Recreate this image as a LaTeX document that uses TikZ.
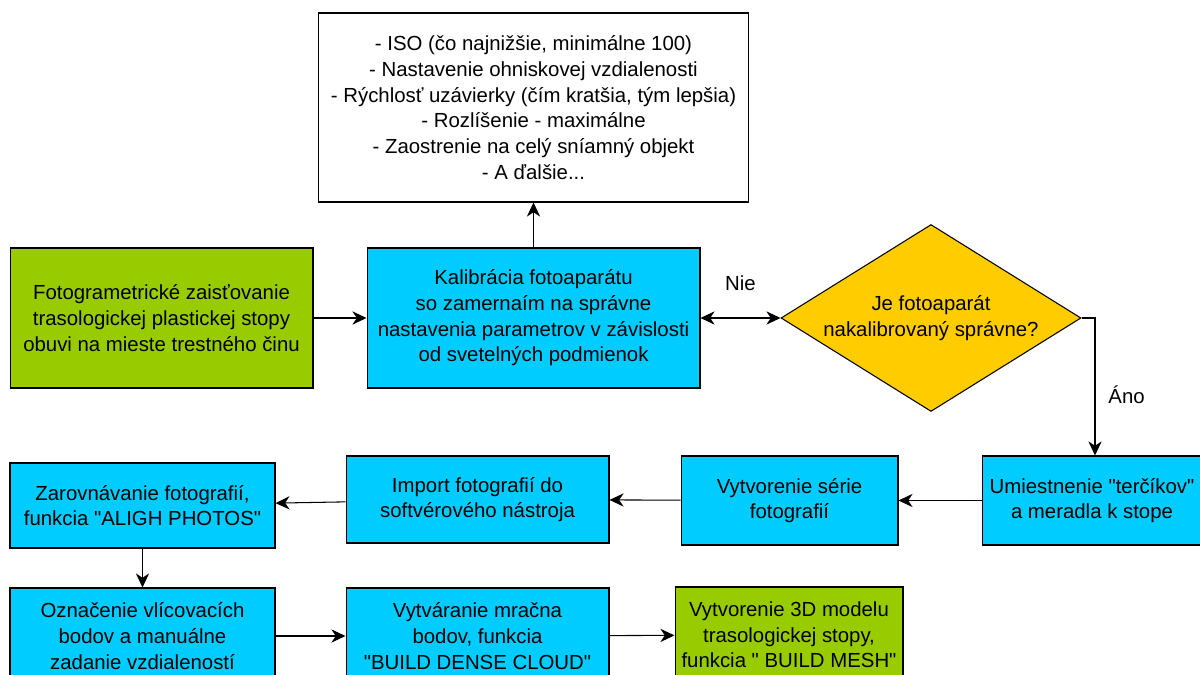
\documentclass[tikz,border=0pt]{standalone}
\usepackage{fontspec}
\setmainfont{Liberation Sans}[Ligatures=TeXOff]
\usetikzlibrary{shapes.geometric,arrows.meta}
\definecolor{myblue}{HTML}{00CCFF}
\definecolor{mygreen}{HTML}{99CC00}
\definecolor{myyellow}{HTML}{FFCC00}
\tikzset{
  stepbox/.style={draw, rectangle, line width=0.6pt, align=center, inner sep=1pt,
    font=\fontsize{11.6pt}{14.6pt}\selectfont},
  bluebox/.style={stepbox, fill=myblue},
  greenbox/.style={stepbox, fill=mygreen},
  tip/.tip={Stealth[length=8pt,width=7.5pt,inset=2.5pt]},
  flow/.style={-tip, line width=0.6pt},
  lbl/.style={font=\fontsize{11.6pt}{14.6pt}\selectfont}
}

\begin{document}
\begin{tikzpicture}[x=0.02cm, y=-0.02cm]%
\clip (0,0) rectangle (1200,675);%
\fill[white] (0,0) rectangle (1200,675);%
% nodes
\node[stepbox, fill=white, minimum width=8.62cm, minimum height=3.78cm] (nastavenia) at (533.5, 107.5) {- ISO (čo najnižšie, minimálne 100)\\- Nastavenie ohniskovej vzdialenosti\\- Rýchlosť uzávierky (čím kratšia, tým lepšia)\\- Rozlíšenie - maximálne\\- Zaostrenie na celý sníamný objekt\\- A ďalšie...};%
\node[greenbox, minimum width=6.06cm, minimum height=2.8cm] (zaistovanie) at (161.5, 318) {Fotogrametrické zaisťovanie\\trasologickej plastickej stopy\\obuvi na mieste trestného činu};%
\node[bluebox, minimum width=6.66cm, minimum height=2.8cm] (kalibracia) at (533.5, 318) {Kalibrácia fotoaparátu\\so zamernaím na správne\\nastavenia parametrov v závislosti\\od svetelných podmienok};%
\node[draw, diamond, aspect=1.6, fill=myyellow, line width=0.6pt, inner sep=0pt, align=center, minimum width=6cm, minimum height=3.74cm, lbl] (otazka) at (931, 318) {Je fotoaparát\\nakalibrovaný správne?};%
\node[bluebox, minimum width=4.4cm, minimum height=1.78cm] (terciky) at (1092, 500.5) {Umiestnenie "terčíkov"\\ a meradla k stope};%
\node[bluebox, minimum width=4.34cm, minimum height=1.78cm] (seria) at (789.5, 500.5) {Vytvorenie série\\fotografií};%
\node[bluebox, minimum width=5.26cm, minimum height=1.74cm] (import) at (477.5, 499.5) {Import fotografií do\\softvérového nástroja};%
\node[bluebox, minimum width=5.3cm, minimum height=1.7cm] (zarovnanie) at (142.5, 505.5) {Zarovnávanie fotografií,\\funkcia "ALIGH PHOTOS"};%
\node[bluebox, minimum width=5.3cm, minimum height=1.92cm] (oznacenie) at (142.5, 636) {Označenie vlícovacích\\bodov a manuálne\\zadanie vzdialeností};%
\node[bluebox, minimum width=5.26cm, minimum height=1.92cm] (mracno) at (477.5, 636) {Vytváranie mračna\\bodov, funkcia\\"BUILD DENSE CLOUD"};%
\node[greenbox, minimum width=4.56cm, minimum height=1.92cm] (model) at (789, 635) {Vytvorenie 3D modelu\\trasologickej stopy,\\funkcia " BUILD MESH"};%
% arrows
\draw[flow] (zaistovanie) -- (kalibracia);%
\draw[flow] (kalibracia) -- (nastavenia);%
\draw[flow, tip-tip] (kalibracia) -- node[lbl, above=12pt] {Nie} (otazka);%
\draw[flow] (otazka.east) -| node[lbl, pos=0.78, right=4pt] {Áno} (terciky.north -| 1095,0);%
\draw[flow] (terciky) -- (seria);%
\draw[flow] (seria) -- (import);%
\draw[flow] (import) -- (zarovnanie);%
\draw[flow] (zarovnanie) -- (oznacenie);%
\draw[flow] (oznacenie) -- (mracno);%
\draw[flow] (mracno) -- (model);%
\end{tikzpicture}
\end{document}
